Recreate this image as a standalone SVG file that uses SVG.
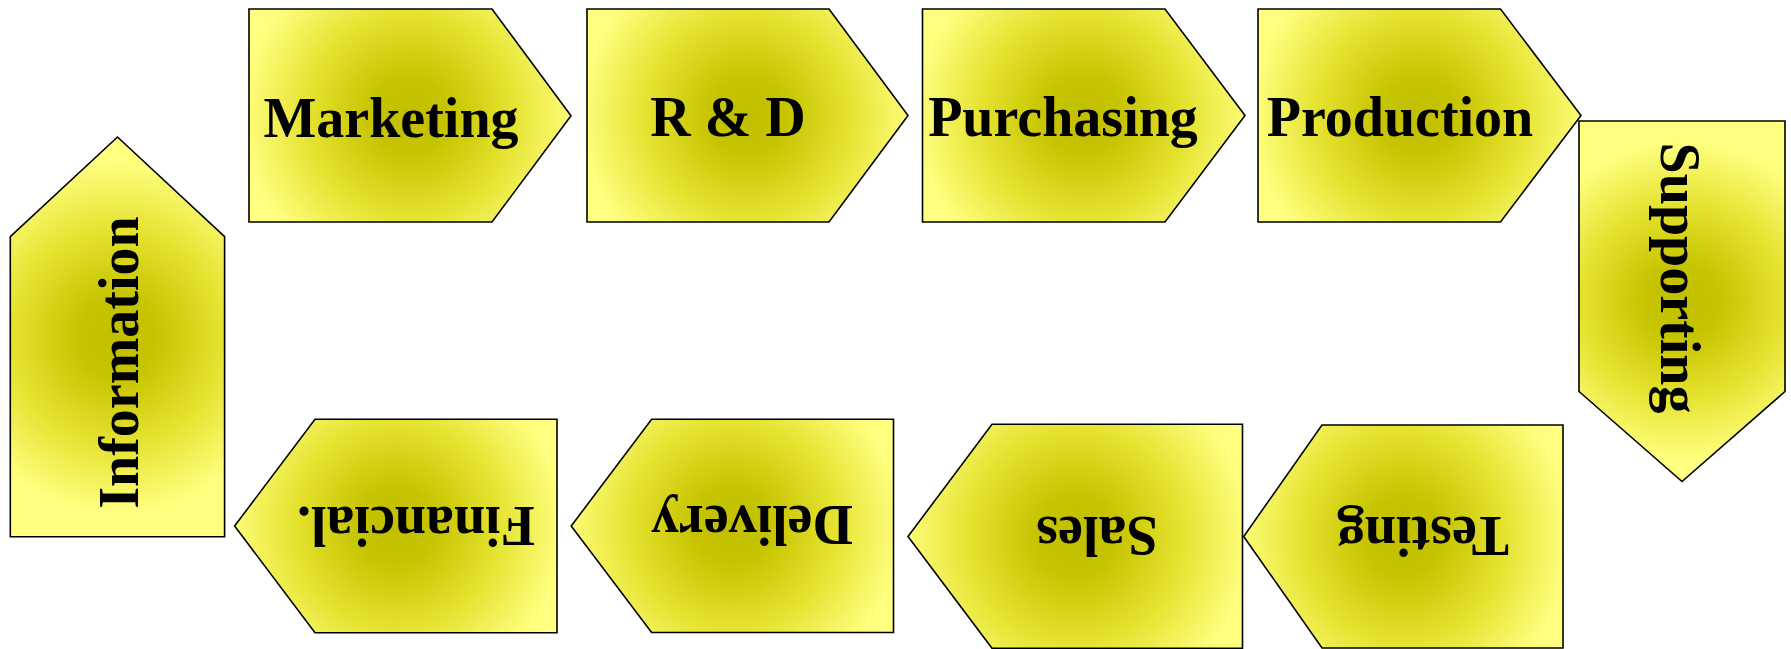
<svg xmlns="http://www.w3.org/2000/svg" width="1791" height="649" viewBox="0 0 1791 649">
<defs>
<radialGradient id="gh" cx="0.5" cy="0.5" r="0.52" gradientTransform="translate(0.5,0.5) scale(1,1.51) translate(-0.5,-0.5)">
<stop offset="0" stop-color="#C2BF00"/>
<stop offset="0.22" stop-color="#C6C300"/>
<stop offset="0.6" stop-color="#E4E22E"/>
<stop offset="1" stop-color="#FFFF80"/>
</radialGradient>
<radialGradient id="gv" cx="0.5" cy="0.5" r="0.8" gradientTransform="translate(0.5,0.5) scale(1,0.55) translate(-0.5,-0.5)">
<stop offset="0" stop-color="#C2BF00"/>
<stop offset="0.22" stop-color="#C6C300"/>
<stop offset="0.6" stop-color="#E4E22E"/>
<stop offset="1" stop-color="#FFFF80"/>
</radialGradient>
<style>
.s{stroke:#000;stroke-width:1.6;stroke-linejoin:miter}
.h{fill:url(#gh)}
.v{fill:url(#gv)}
.t{font-family:"Liberation Serif","Times New Roman",serif;font-weight:bold;font-size:56px;fill:#000;text-anchor:middle}
</style>
</defs>
<rect width="1791" height="649" fill="#fff"/>
<g id="connectors"/>
<g id="marketing"><polygon class="s h" points="249,9 492,9 571,115.7 492,222 249,222"/><text class="t" x="391" y="137">Marketing</text></g>
<g id="rnd"><polygon class="s h" points="587,9 829,9 908,115.5 829,222 587,222"/><text class="t" x="728" y="136">R &amp; D</text></g>
<g id="purchasing"><polygon class="s h" points="922.5,9 1165,9 1245,115.5 1165,222 922.5,222"/><text class="t" x="1063" y="136">Purchasing</text></g>
<g id="production"><polygon class="s h" points="1258,9 1500.5,9 1581,115.5 1500.5,222 1258,222"/><text class="t" x="1400" y="136">Production</text></g>
<g id="supporting"><polygon class="s v" points="1579,121 1785,121 1785,391.5 1682,481.5 1579,391.5"/><text class="t" transform="translate(1661,278) rotate(90)">Supporting</text></g>
<g id="testing"><polygon class="s h" points="1563,425 1322,425 1243.7,536.5 1322,648 1563,648"/><text class="t" transform="translate(1423,517) rotate(180)">Testing</text></g>
<g id="sales"><polygon class="s h" points="1242.5,424.3 992,424.3 908,536.5 992,648.3 1242.5,648.3"/><text class="t" transform="translate(1097,517) rotate(180)">Sales</text></g>
<g id="delivery"><polygon class="s h" points="893.5,419.3 651.6,419.3 571.2,526 651.6,632.5 893.5,632.5"/><text class="t" transform="translate(752,506) rotate(180)">Delivery</text></g>
<g id="financial"><polygon class="s h" points="557,419.3 315,419.3 234.6,526 315,632.7 557,632.7"/><text class="t" transform="translate(416,507) rotate(180)">Financial.</text></g>
<g id="information"><polygon class="s v" points="10.3,536.7 10.3,236.7 117.5,137 224.6,236.7 224.6,536.7"/><text class="t" transform="translate(138,362.5) rotate(-90)">Information</text></g>
</svg>
